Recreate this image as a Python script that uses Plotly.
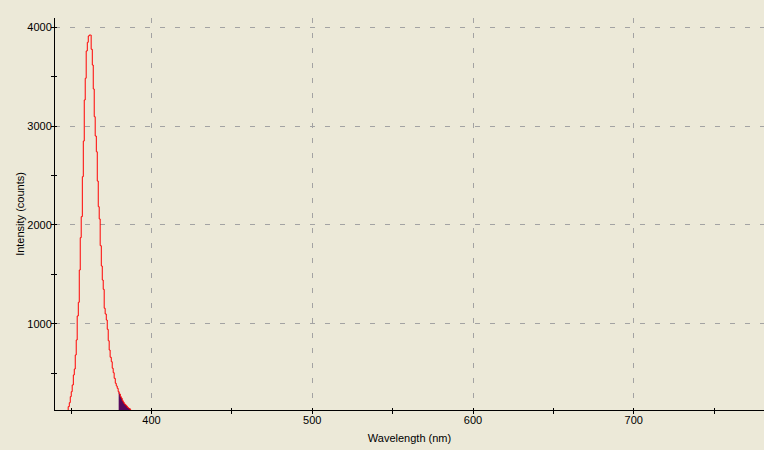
import plotly.graph_objects as go

# =========================
# Datos (leídos del espectro)
# =========================
LONGITUD_ONDA = [
    347.6, 348.2, 348.9, 349.5, 350.1, 350.7, 351.4, 352.0, 352.6, 353.2,
    353.8, 354.5, 355.1, 355.7, 356.3, 357.0, 357.6, 358.2, 358.8, 359.4,
    360.1, 360.7, 361.3, 361.9, 362.5, 363.2, 363.8, 364.4, 365.0, 365.7,
    366.3, 366.9, 367.5, 368.1, 368.8, 369.4, 370.0, 370.6, 371.2, 371.9,
    372.5, 373.1, 373.7, 374.3, 375.0, 375.6, 376.2, 376.8, 377.5, 378.1,
    378.7, 379.3, 379.9, 380.6, 381.2, 381.8, 382.4, 383.0, 383.7, 384.3,
    384.9, 385.5, 386.1, 386.8, 387.4,
]
INTENSIDAD = [
    110, 165, 205, 266, 316, 384, 485, 545, 687, 838,
    1081, 1219, 1545, 1872, 2084, 2488, 2848, 3263, 3482, 3758,
    3845, 3909, 3919, 3919, 3775, 3616, 3374, 3094, 2899, 2740,
    2444, 2185, 2061, 1791, 1586, 1444, 1350, 1159, 1101, 1040,
    946, 831, 737, 664, 619, 553, 508, 451, 401, 374,
    350, 316, 293, 266, 249, 225, 209, 192, 182, 172,
    159, 151, 144, 131, 110,
]
# zona integrada (relleno)
RELLENO_DESDE = 379.6

TICKS_X = [400, 500, 600, 700]
TICKS_Y = [1000, 2000, 3000, 4000]

FONDO = "#ECE9D8"
ROJO = "#ff0000"
MORADO = "#560a5e"
REJILLA = "#a3a3a3"


def main():
    # puntos del relleno: desde RELLENO_DESDE hasta el final
    previos = [v for x, v in zip(LONGITUD_ONDA, INTENSIDAD) if x < RELLENO_DESDE]
    x_rel = [RELLENO_DESDE] + [x for x in LONGITUD_ONDA if x >= RELLENO_DESDE]
    y_rel = [previos[-1]] + [v for x, v in zip(LONGITUD_ONDA, INTENSIDAD) if x >= RELLENO_DESDE]

    fig = go.Figure()
    fig.add_trace(go.Scatter(
        x=x_rel, y=y_rel, mode="lines", line_shape="hv",
        fill="tozeroy", fillcolor=MORADO, line=dict(width=0),
        hoverinfo="skip", showlegend=False,
    ))
    fig.add_trace(go.Scatter(
        x=LONGITUD_ONDA, y=INTENSIDAD, mode="lines", line_shape="hv",
        line=dict(color=ROJO, width=1), showlegend=False,
    ))
    # traza vacía para los ejes "interiores" (ticks cruzados)
    fig.add_trace(go.Scatter(x=[], y=[], xaxis="x2", yaxis="y2", showlegend=False))

    fuente = dict(family="Liberation Sans, Arial, sans-serif", size=11, color="black")
    rango_x = [340, 781]
    rango_y = [131, 4091]

    comun = dict(
        showline=True, linecolor="black", linewidth=1,
        ticks="outside", ticklen=3, tickcolor="black", tickwidth=1,
        showgrid=True, gridcolor=REJILLA, gridwidth=1, griddash="5px,10px",
        zeroline=False, tickfont=fuente, ticklabelstandoff=-3,
    )
    fig.update_layout(
        width=764, height=450,
        paper_bgcolor=FONDO, plot_bgcolor=FONDO,
        margin=dict(l=55, r=0, t=18, b=40),
        font=fuente,
        xaxis=dict(
            range=rango_x, tickvals=TICKS_X,
            minor=dict(dtick=50, tick0=0, ticks="outside", ticklen=3, tickcolor="black", showgrid=False),
            title=dict(text="Wavelength (nm)", font=fuente, standoff=9),
            automargin=False, **comun,
        ),
        yaxis=dict(
            range=rango_y, tickvals=TICKS_Y,
            minor=dict(dtick=500, tick0=0, ticks="outside", ticklen=3, tickcolor="black", showgrid=False),
            title=dict(text="Intensity (counts)", font=fuente, standoff=0),
            automargin=False, **comun,
        ),
        xaxis2=dict(
            overlaying="x", anchor="y", side="bottom", range=rango_x, tickvals=TICKS_X,
            ticks="inside", ticklen=2, tickcolor="black", showticklabels=False, showgrid=False,
            minor=dict(dtick=50, tick0=0, ticks="inside", ticklen=2, tickcolor="black"),
            zeroline=False, showline=False,
        ),
        yaxis2=dict(
            overlaying="y", anchor="x", side="left", range=rango_y, tickvals=TICKS_Y,
            ticks="inside", ticklen=2, tickcolor="black", showticklabels=False, showgrid=False,
            minor=dict(dtick=500, tick0=0, ticks="inside", ticklen=2, tickcolor="black"),
            zeroline=False, showline=False,
        ),
    )
    # sin margen del navegador ni barra de herramientas
    fig.write_html(
        "out.html",
        config={"displayModeBar": False},
        post_script="document.body.style.margin='0';document.body.style.background='#ECE9D8';",
    )


if __name__ == "__main__":
    main()
